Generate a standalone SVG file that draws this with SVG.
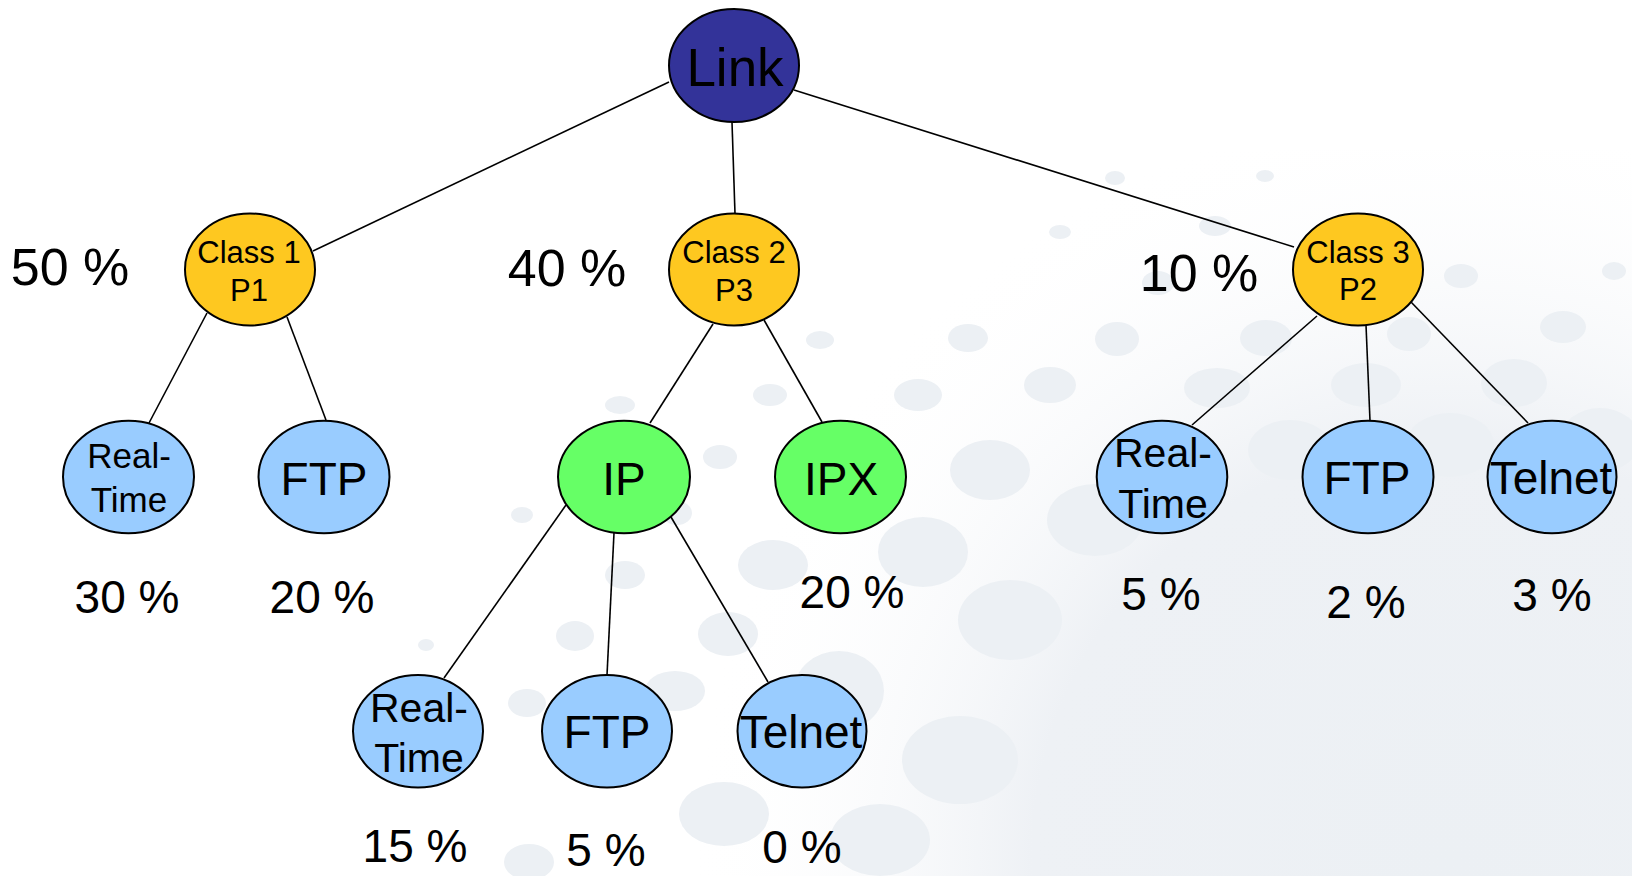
<svg xmlns="http://www.w3.org/2000/svg" width="1632" height="876" viewBox="0 0 1632 876">
  <defs>
    <radialGradient id="haze" cx="1450" cy="860" r="760" gradientUnits="userSpaceOnUse">
      <stop offset="0" stop-color="#ECF0F4"/>
      <stop offset="0.55" stop-color="#EEF1F5"/>
      <stop offset="1" stop-color="#FFFFFF" stop-opacity="0"/>
    </radialGradient>
    <style>
      .edge { stroke: #000; stroke-width: 1.6; fill: none; }
      .node { stroke: #000; stroke-width: 2; }
      .root { fill: #333399; }
      .cls { fill: #FEC820; }
      .leaf { fill: #99CCFF; }
      .proto { fill: #66FF66; }
      .dot { fill: #ECF0F4; }
      text { font-family: "Liberation Sans", Arial, sans-serif; fill: #000; text-anchor: middle; }
      .t-root { font-size: 53px; }
      .t-cls { font-size: 31px; }
      .t-big { font-size: 46px; }
      .t-rt1 { font-size: 35px; }
      .t-rt { font-size: 41px; }
      .pct { font-size: 46px; }
      .pct-top { font-size: 52px; }
    </style>
  </defs>

  <!-- page background with soft dotted globe pattern -->
  <rect width="1632" height="876" fill="#FFFFFF"/>
  <g id="backdrop">
    <rect x="380" y="150" width="1252" height="726" fill="url(#haze)"/>
    <ellipse class="dot" cx="1115" cy="178" rx="10" ry="7"/>
    <ellipse class="dot" cx="1265" cy="176" rx="9" ry="6"/>
    <ellipse class="dot" cx="1215" cy="226" rx="16" ry="10"/>
    <ellipse class="dot" cx="1158" cy="283" rx="16" ry="12"/>
    <ellipse class="dot" cx="1461" cy="276" rx="17" ry="12"/>
    <ellipse class="dot" cx="1614" cy="271" rx="12" ry="9"/>
    <ellipse class="dot" cx="1060" cy="232" rx="11" ry="7"/>
    <ellipse class="dot" cx="1117" cy="339" rx="22" ry="17"/>
    <ellipse class="dot" cx="1266" cy="338" rx="26" ry="18"/>
    <ellipse class="dot" cx="1409" cy="334" rx="22" ry="17"/>
    <ellipse class="dot" cx="1563" cy="327" rx="23" ry="16"/>
    <ellipse class="dot" cx="1217" cy="388" rx="33" ry="20"/>
    <ellipse class="dot" cx="1366" cy="385" rx="35" ry="22"/>
    <ellipse class="dot" cx="1514" cy="383" rx="33" ry="24"/>
    <ellipse class="dot" cx="968" cy="338" rx="20" ry="14"/>
    <ellipse class="dot" cx="1050" cy="385" rx="26" ry="18"/>
    <ellipse class="dot" cx="918" cy="395" rx="24" ry="16"/>
    <ellipse class="dot" cx="820" cy="340" rx="14" ry="9"/>
    <ellipse class="dot" cx="770" cy="395" rx="17" ry="11"/>
    <ellipse class="dot" cx="620" cy="405" rx="15" ry="9"/>
    <ellipse class="dot" cx="720" cy="457" rx="17" ry="12"/>
    <ellipse class="dot" cx="677" cy="513" rx="15" ry="12"/>
    <ellipse class="dot" cx="522" cy="515" rx="11" ry="8"/>
    <ellipse class="dot" cx="426" cy="645" rx="8" ry="6"/>
    <ellipse class="dot" cx="575" cy="636" rx="19" ry="15"/>
    <ellipse class="dot" cx="625" cy="575" rx="20" ry="14"/>
    <ellipse class="dot" cx="527" cy="703" rx="19" ry="14"/>
    <ellipse class="dot" cx="675" cy="691" rx="30" ry="20"/>
    <ellipse class="dot" cx="728" cy="634" rx="30" ry="22"/>
    <ellipse class="dot" cx="773" cy="565" rx="35" ry="25"/>
    <ellipse class="dot" cx="923" cy="552" rx="45" ry="35"/>
    <ellipse class="dot" cx="839" cy="691" rx="45" ry="40"/>
    <ellipse class="dot" cx="724" cy="814" rx="45" ry="32"/>
    <ellipse class="dot" cx="529" cy="862" rx="25" ry="18"/>
    <ellipse class="dot" cx="990" cy="470" rx="40" ry="30"/>
    <ellipse class="dot" cx="1095" cy="520" rx="48" ry="36"/>
    <ellipse class="dot" cx="1290" cy="450" rx="42" ry="30"/>
    <ellipse class="dot" cx="1450" cy="445" rx="44" ry="32"/>
    <ellipse class="dot" cx="1600" cy="440" rx="40" ry="32"/>
    <ellipse class="dot" cx="1010" cy="620" rx="52" ry="40"/>
    <ellipse class="dot" cx="960" cy="760" rx="58" ry="44"/>
    <ellipse class="dot" cx="880" cy="840" rx="50" ry="36"/>
  </g>

  <!-- connectors -->
  <g id="connectors">
    <line class="edge" x1="669" y1="82" x2="313" y2="251"/>
    <line class="edge" x1="732" y1="122" x2="735" y2="214"/>
    <line class="edge" x1="794" y1="90" x2="1294" y2="247"/>
    <line class="edge" x1="207" y1="313" x2="149" y2="423"/>
    <line class="edge" x1="287" y1="317" x2="326" y2="420"/>
    <line class="edge" x1="713" y1="324" x2="650" y2="423"/>
    <line class="edge" x1="764" y1="320" x2="822" y2="422"/>
    <line class="edge" x1="1317" y1="316" x2="1192" y2="425"/>
    <line class="edge" x1="1366" y1="325" x2="1370" y2="421"/>
    <line class="edge" x1="1411" y1="302" x2="1528" y2="423"/>
    <line class="edge" x1="566" y1="505" x2="444" y2="678"/>
    <line class="edge" x1="614" y1="533" x2="607" y2="675"/>
    <line class="edge" x1="671" y1="517" x2="768" y2="682"/>
  </g>

  <g id="link">
    <ellipse class="node root" cx="734" cy="65.5" rx="65" ry="56.5"/>
    <text class="t-root" x="735" y="86">Link</text>
  </g>

  <g id="class1">
    <ellipse class="node cls" cx="250" cy="269.5" rx="65" ry="56"/>
    <text class="t-cls" x="249" y="263">Class 1</text>
    <text class="t-cls" x="249" y="301">P1</text>
  </g>
  <g id="class2">
    <ellipse class="node cls" cx="734" cy="269.5" rx="65" ry="56"/>
    <text class="t-cls" x="734" y="263">Class 2</text>
    <text class="t-cls" x="734" y="301">P3</text>
  </g>
  <g id="class3">
    <ellipse class="node cls" cx="1358" cy="269.5" rx="65" ry="56"/>
    <text class="t-cls" x="1358" y="263">Class 3</text>
    <text class="t-cls" x="1358" y="300">P2</text>
  </g>

  <g id="c1-realtime">
    <ellipse class="node leaf" cx="128.5" cy="477" rx="65.5" ry="56.3"/>
    <text class="t-rt1" x="129" y="468">Real-</text>
    <text class="t-rt1" x="129" y="512">Time</text>
  </g>
  <g id="c1-ftp">
    <ellipse class="node leaf" cx="324" cy="477" rx="65.5" ry="56.3"/>
    <text class="t-big" x="324" y="495">FTP</text>
  </g>

  <g id="c2-ip">
    <ellipse class="node proto" cx="624" cy="477" rx="66" ry="56.3"/>
    <text class="t-big" x="624" y="495">IP</text>
  </g>
  <g id="c2-ipx">
    <ellipse class="node proto" cx="840.5" cy="477" rx="65.5" ry="56.3"/>
    <text class="t-big" x="841" y="495">IPX</text>
  </g>

  <g id="c3-realtime">
    <ellipse class="node leaf" cx="1162" cy="477" rx="65.3" ry="56.3"/>
    <text class="t-rt" x="1163" y="467">Real-</text>
    <text class="t-rt" x="1163" y="518">Time</text>
  </g>
  <g id="c3-ftp">
    <ellipse class="node leaf" cx="1368" cy="477" rx="65.5" ry="56.3"/>
    <text class="t-big" x="1367" y="494">FTP</text>
  </g>
  <g id="c3-telnet">
    <ellipse class="node leaf" cx="1552" cy="477" rx="64.5" ry="56.3"/>
    <text class="t-big" x="1551" y="494">Telnet</text>
  </g>

  <g id="ip-realtime">
    <ellipse class="node leaf" cx="418" cy="731.3" rx="65" ry="56.3"/>
    <text class="t-rt" x="419" y="722">Real-</text>
    <text class="t-rt" x="419" y="772">Time</text>
  </g>
  <g id="ip-ftp">
    <ellipse class="node leaf" cx="607" cy="731.3" rx="65" ry="56.3"/>
    <text class="t-big" x="607" y="748">FTP</text>
  </g>
  <g id="ip-telnet">
    <ellipse class="node leaf" cx="802" cy="731.3" rx="64.5" ry="56.3"/>
    <text class="t-big" x="801" y="748">Telnet</text>
  </g>

  <!-- bandwidth shares -->
  <g id="shares">
    <text class="pct-top" x="70" y="285">50 %</text>
    <text class="pct-top" x="567" y="286">40 %</text>
    <text class="pct-top" x="1199" y="291">10 %</text>
    <text class="pct" x="127" y="613">30 %</text>
    <text class="pct" x="322" y="613">20 %</text>
    <text class="pct" x="852" y="608">20 %</text>
    <text class="pct" x="1161" y="610">5 %</text>
    <text class="pct" x="1366" y="618">2 %</text>
    <text class="pct" x="1552" y="611">3 %</text>
    <text class="pct" x="415" y="862">15 %</text>
    <text class="pct" x="606" y="866">5 %</text>
    <text class="pct" x="802" y="863">0 %</text>
  </g>
</svg>
